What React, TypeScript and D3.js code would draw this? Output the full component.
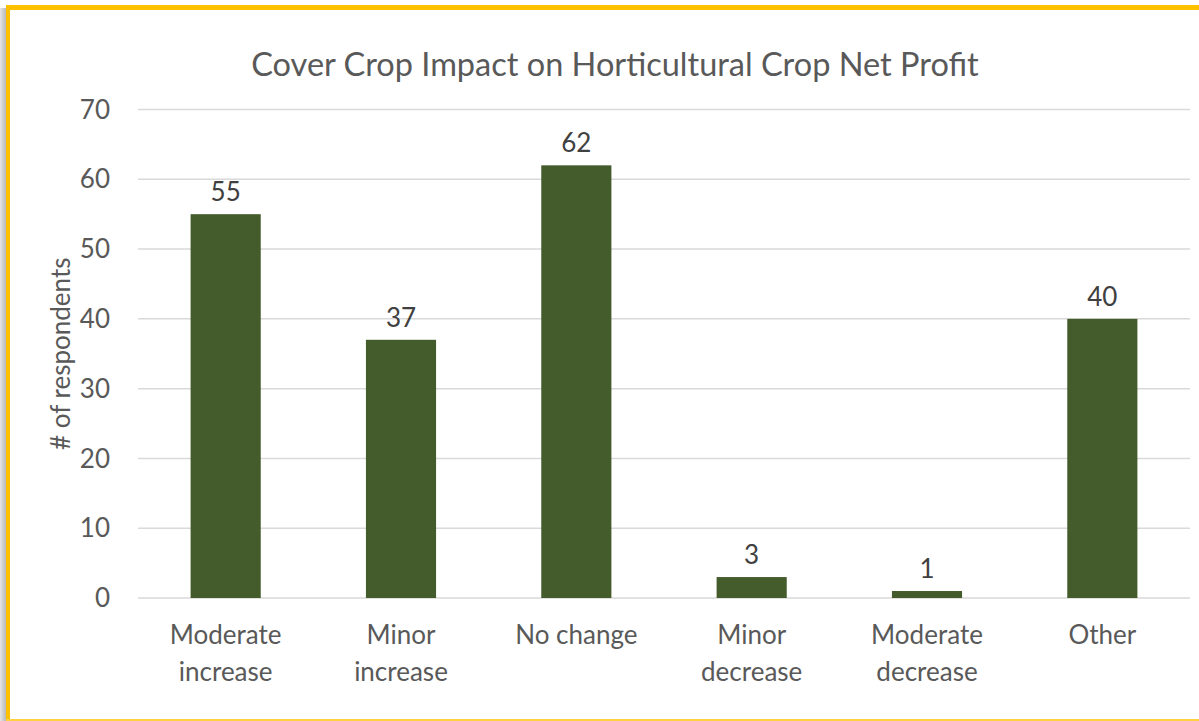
import React from "react";
import * as d3 from "d3";

const categories: string[][] = [
  ["Moderate", "increase"],
  ["Minor", "increase"],
  ["No change"],
  ["Minor", "decrease"],
  ["Moderate", "decrease"],
  ["Other"],
];
const values: number[] = [55, 37, 62, 3, 1, 40];
const yTicks: number[] = [0, 10, 20, 30, 40, 50, 60, 70];
const title = "Cover Crop Impact on Horticultural Crop Net Profit";
const yTitle = "# of respondents";

const W = 1199;
const H = 721;
const FONT = "Lato, 'Open Sans', sans-serif";

export default function App() {
  const left = 138;
  const right = 1190;
  const top = 109.5;
  const bottom = 598;
  const x = d3
    .scaleBand<number>()
    .domain(values.map((_, i) => i))
    .range([left, right])
    .paddingInner(0.6)
    .paddingOuter(0.3);
  const y = d3.scaleLinear().domain([0, 70]).range([bottom, top]);
  const textColor = "#595959";

  return (
    <svg
      width={W}
      height={H}
      style={{ position: "absolute", left: 0, top: 0, display: "block" }}
    >
      <defs>
        <linearGradient id="shadow" x1="0" x2="1" y1="0" y2="0">
          <stop offset="0" stopColor="#e6e6e6" />
          <stop offset="1" stopColor="#b8b8b8" />
        </linearGradient>
      </defs>
      <rect x={0} y={0} width={W} height={H} fill="#ffffff" />
      <rect x={0} y={8} width={6} height={H - 8} fill="url(#shadow)" />
      {/* yellow frame */}
      <rect x={6} y={5} width={W - 6} height={5} fill="#FFC000" />
      <rect x={6} y={5} width={4} height={H - 5} fill="#FFC000" />
      <rect x={6} y={719} width={W - 6} height={2} fill="#FFD040" />

      <text
        x={615}
        y={76}
        textAnchor="middle"
        fontFamily={FONT}
        fontSize={32.5}
        fill={textColor}
      >
        {title}
      </text>

      {yTicks.map((t) => (
        <g key={t}>
          <line
            x1={left}
            x2={right}
            y1={y(t)}
            y2={y(t)}
            stroke="#D9D9D9"
            strokeWidth={1.5}
          />
          <text
            x={110}
            y={y(t)}
            dy="0.35em"
            textAnchor="end"
            fontFamily={FONT}
            fontSize={26}
            fill={textColor}
          >
            {t}
          </text>
        </g>
      ))}

      <text
        transform={`translate(70, ${(top + bottom) / 2}) rotate(-90)`}
        textAnchor="middle"
        fontFamily={FONT}
        fontSize={26}
        fill={textColor}
      >
        {yTitle}
      </text>

      {values.map((v, i) => {
        const bx = x(i)!;
        const bw = x.bandwidth();
        const cx = bx + bw / 2;
        return (
          <g key={i}>
            <rect
              x={bx}
              y={y(v)}
              width={bw}
              height={y(0) - y(v)}
              fill="#445B2B"
            />
            <text
              x={cx}
              y={y(v) - 13}
              textAnchor="middle"
              fontFamily={FONT}
              fontSize={26}
              fill="#404040"
            >
              {v}
            </text>
            {categories[i].map((line, j) => (
              <text
                key={j}
                x={cx}
                y={644 + j * 37}
                textAnchor="middle"
                fontFamily={FONT}
                fontSize={26}
                fill={textColor}
              >
                {line}
              </text>
            ))}
          </g>
        );
      })}
    </svg>
  );
}
